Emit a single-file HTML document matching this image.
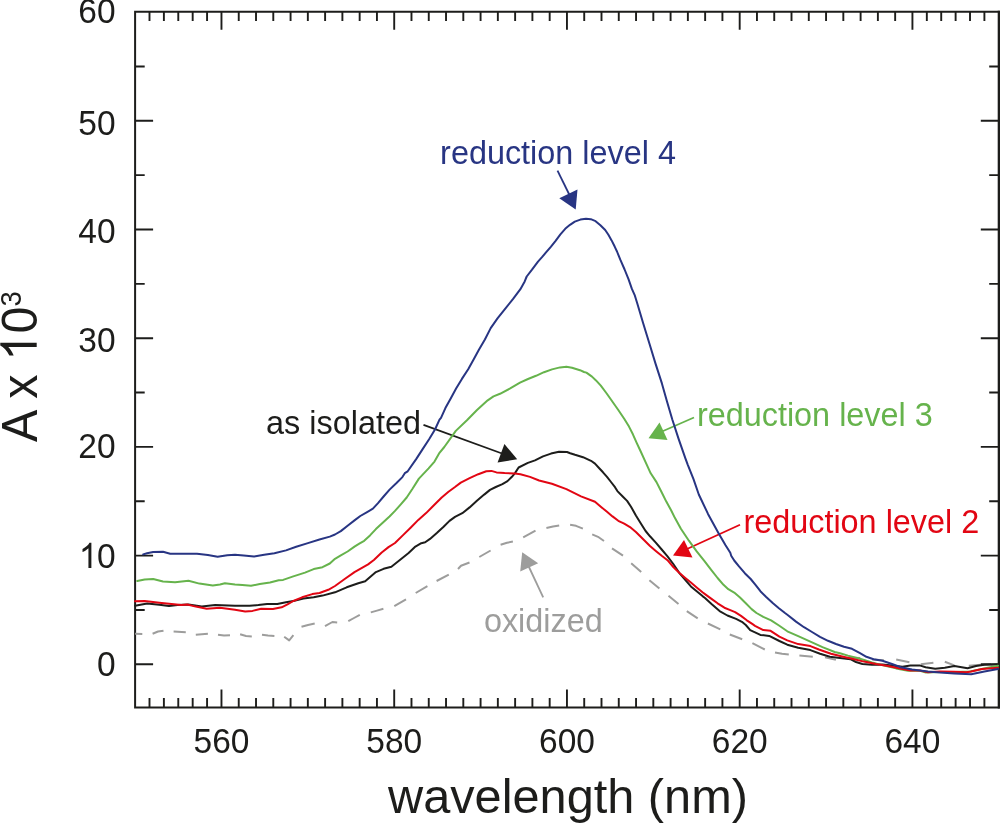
<!DOCTYPE html>
<html><head><meta charset="utf-8"><style>
html,body{margin:0;padding:0;background:#fff;width:1000px;height:823px;overflow:hidden}
svg{display:block;font-family:"Liberation Sans",sans-serif;will-change:transform}
</style></head><body>
<svg width="1000" height="823" viewBox="0 0 1000 823">
<path d="M998.8 11.7H135.1V707.4H998.8" fill="none" stroke="#1d1d1b" stroke-width="2" stroke-linecap="square"/>
<path d="M998.9 10.7V708.4" fill="none" stroke="#1d1d1b" stroke-width="2.4"/>
<path d="M221.47 11.7V29.7M221.47 707.4V689.4M394.21 11.7V29.7M394.21 707.4V689.4M566.95 11.7V29.7M566.95 707.4V689.4M739.69 11.7V29.7M739.69 707.4V689.4M912.43 11.7V29.7M912.43 707.4V689.4M149.50 11.7V21.0M149.50 707.4V698.1M163.89 11.7V21.0M163.89 707.4V698.1M178.28 11.7V21.0M178.28 707.4V698.1M192.68 11.7V21.0M192.68 707.4V698.1M207.07 11.7V21.0M207.07 707.4V698.1M238.74 11.7V21.0M238.74 707.4V698.1M256.02 11.7V21.0M256.02 707.4V698.1M273.29 11.7V21.0M273.29 707.4V698.1M290.57 11.7V21.0M290.57 707.4V698.1M307.84 11.7V21.0M307.84 707.4V698.1M325.11 11.7V21.0M325.11 707.4V698.1M342.39 11.7V21.0M342.39 707.4V698.1M359.66 11.7V21.0M359.66 707.4V698.1M376.94 11.7V21.0M376.94 707.4V698.1M411.48 11.7V21.0M411.48 707.4V698.1M428.76 11.7V21.0M428.76 707.4V698.1M446.03 11.7V21.0M446.03 707.4V698.1M463.31 11.7V21.0M463.31 707.4V698.1M480.58 11.7V21.0M480.58 707.4V698.1M497.85 11.7V21.0M497.85 707.4V698.1M515.13 11.7V21.0M515.13 707.4V698.1M532.40 11.7V21.0M532.40 707.4V698.1M549.68 11.7V21.0M549.68 707.4V698.1M584.22 11.7V21.0M584.22 707.4V698.1M601.50 11.7V21.0M601.50 707.4V698.1M618.77 11.7V21.0M618.77 707.4V698.1M636.05 11.7V21.0M636.05 707.4V698.1M653.32 11.7V21.0M653.32 707.4V698.1M670.59 11.7V21.0M670.59 707.4V698.1M687.87 11.7V21.0M687.87 707.4V698.1M705.14 11.7V21.0M705.14 707.4V698.1M722.42 11.7V21.0M722.42 707.4V698.1M756.96 11.7V21.0M756.96 707.4V698.1M774.24 11.7V21.0M774.24 707.4V698.1M791.51 11.7V21.0M791.51 707.4V698.1M808.79 11.7V21.0M808.79 707.4V698.1M826.06 11.7V21.0M826.06 707.4V698.1M843.33 11.7V21.0M843.33 707.4V698.1M860.61 11.7V21.0M860.61 707.4V698.1M877.88 11.7V21.0M877.88 707.4V698.1M895.16 11.7V21.0M895.16 707.4V698.1M926.83 11.7V21.0M926.83 707.4V698.1M941.22 11.7V21.0M941.22 707.4V698.1M955.62 11.7V21.0M955.62 707.4V698.1M970.01 11.7V21.0M970.01 707.4V698.1M984.40 11.7V21.0M984.40 707.4V698.1M135.1 664.30H153.1M998.8 664.30H980.8M135.1 555.60H153.1M998.8 555.60H980.8M135.1 446.90H153.1M998.8 446.90H980.8M135.1 338.20H153.1M998.8 338.20H980.8M135.1 229.50H153.1M998.8 229.50H980.8M135.1 120.80H153.1M998.8 120.80H980.8M135.1 609.95H144.7M998.8 609.95H989.1999999999999M135.1 501.25H144.7M998.8 501.25H989.1999999999999M135.1 392.55H144.7M998.8 392.55H989.1999999999999M135.1 283.85H144.7M998.8 283.85H989.1999999999999M135.1 175.15H144.7M998.8 175.15H989.1999999999999M135.1 66.45H144.7M998.8 66.45H989.1999999999999" stroke="#1d1d1b" stroke-width="1.9" fill="none"/>
<g font-size="33.5" fill="#1d1d1b"><text transform="translate(115.6 676.2) scale(1 1.05)" text-anchor="end">0</text><text transform="translate(115.6 568.0) scale(1 1.05)" text-anchor="end">0</text><path d="M763 0H583V1147Q518 1085 412 1023Q306 961 221 930V1104Q372 1175 485 1276Q598 1377 645 1472H763Z" transform="translate(78.9 568.0) scale(0.016357 -0.017175)"/><text transform="translate(115.6 458.2) scale(1 1.05)" text-anchor="end">20</text><text transform="translate(115.6 352.1) scale(1 1.05)" text-anchor="end">30</text><text transform="translate(115.6 243.0) scale(1 1.05)" text-anchor="end">40</text><text transform="translate(115.6 134.5) scale(1 1.05)" text-anchor="end">50</text><text transform="translate(115.6 23.4) scale(1 1.05)" text-anchor="end">60</text><text transform="translate(221.5 753.0) scale(1 1.05)" text-anchor="middle">560</text><text transform="translate(394.2 753.0) scale(1 1.05)" text-anchor="middle">580</text><text transform="translate(567.0 753.0) scale(1 1.05)" text-anchor="middle">600</text><text transform="translate(739.7 753.0) scale(1 1.05)" text-anchor="middle">620</text><text transform="translate(912.4 753.0) scale(1 1.05)" text-anchor="middle">640</text></g>
<text x="388" y="813" font-size="48.7" fill="#1d1d1b">wavelength (nm)</text>
<g transform="translate(36.7,442) rotate(-90) scale(1,1.045)" fill="#1d1d1b" font-size="48.5"><text x="0" y="0">A x</text><path d="M763 0H583V1147Q518 1085 412 1023Q306 961 221 930V1104Q372 1175 485 1276Q598 1377 645 1472H763Z" transform="translate(81.2 0) scale(0.023682 -0.023682)"/><text x="108.4" y="0">0</text><text x="135.45" y="-14.9" font-size="27.5">3</text></g>
<g font-size="32.4" transform="translate(0.5 0.7)"><text x="439.6" y="163.3" fill="#283583">reduction level 4</text><text x="696.4" y="425.5" fill="#66b34c">reduction level 3</text><text x="265.6" y="433" fill="#1d1d1b">as isolated</text><text x="742.9" y="532.3" fill="#e20613">reduction level 2</text><text x="483.4" y="631.7" fill="#9d9d9c">oxidized</text></g>
<path d="M557.5 170.6L569.5 195" stroke="#283583" stroke-width="1.8"/><path d="M559.3 198.3L577.5 189.5L575.7 209.6Z" fill="#283583"/>
<path d="M694 417.5L662 431.5" stroke="#66b34c" stroke-width="1.8"/><path d="M659.5 422.5L667.5 440L648.5 438.2Z" fill="#66b34c"/>
<path d="M423.5 424.9L502 453.5" stroke="#1d1d1b" stroke-width="1.8"/><path d="M504.4 444L497.6 462.4L517.2 459.2Z" fill="#1d1d1b"/>
<path d="M740 524.7L687 549" stroke="#e20613" stroke-width="1.8"/><path d="M684 540L692.5 557.5L673 555.5Z" fill="#e20613"/>
<path d="M543.2 597.4L528.5 566" stroke="#9d9d9c" stroke-width="1.8"/><path d="M520.2 571.5L538.2 563.2L522.2 552.3Z" fill="#9d9d9c"/>
<path d="M135.1 633.8 L142.3 633.9M152.6 633.7 L158.0 631.5 L163.5 630.7M173.6 631.5 L185.8 632.3M195.8 634.7 L207.9 633.7M218.0 634.7 L224.0 635.6 L230.0 635.2M240.1 634.2 L246.0 636.0 L251.8 636.4M262.0 634.7 L268.0 635.5 L274.4 636.0M284.2 636.8 L289.2 640.4 L293.4 635.2M301.5 626.8 L308.0 625.0 L314.7 623.5M325.0 626.2 L332.4 622.0 L337.2 622.4M348.3 621.2 L354.0 618.0 L359.8 614.8M370.8 612.4 L377.0 610.6 L383.4 608.8M394.3 606.2 L406.0 599.4M415.7 593.0 L427.4 586.1M436.6 581.0 L448.8 574.6M458.0 569.0 L461.0 565.8 L469.5 562.5M479.3 557.0 L490.6 550.5M500.6 544.8 L507.0 542.8 L512.9 541.6M523.2 537.3 L535.5 530.7M546.4 528.0 L553.0 526.5 L559.2 525.6M570.1 524.7 L576.0 525.8 L582.9 528.7M592.2 534.4 L598.0 536.8 L604.0 541.0M612.0 548.4 L623.0 555.7M631.2 563.3 L641.2 572.1M649.4 580.3 L659.4 588.5M668.5 595.8 L678.5 604.0M686.8 611.1 L697.7 618.4M707.9 623.5 L720.3 629.4M729.8 634.5 L742.2 639.3M752.4 643.2 L764.8 649.5M775.0 652.4 L782.0 653.8 L788.8 654.6M799.4 655.6 L812.8 656.8M825.0 657.4 L835.9 659.9M848.0 657.4 L860.2 658.0M872.0 659.6 L884.0 660.3M896.2 659.4 L909.4 662.2M920.8 664.2 L933.4 662.7M944.8 661.8 L954.4 665.4M968.8 665.8 L980.8 664.8M991.0 664.5 L998.0 664.5" stroke="#9d9d9c" stroke-width="2" fill="none" stroke-linejoin="round" stroke-linecap="butt"/>
<path d="M135.1 605.8 L147.2 603.6 L159.3 604.8 L169.0 606.0 L177.5 605.1 L188.5 604.5 L201.8 606.4 L215.2 604.9 L235.0 605.8 L249.6 605.8 L258.3 605.1 L267.1 604.1 L277.3 604.1 L286.0 602.2 L293.3 601.1 L303.5 598.5 L313.7 597.3 L322.5 595.6 L335.0 592.3 L346.7 587.3 L358.3 583.2 L365.2 581.3 L375.9 572.1 L383.6 568.8 L391.4 566.7 L400.8 559.3 L408.6 553.0 L415.4 546.6 L421.3 543.2 L425.2 542.3 L430.0 538.9 L436.8 533.0 L443.6 526.7 L449.5 520.9 L455.0 516.9 L462.3 513.2 L469.6 507.4 L476.9 500.8 L484.2 494.6 L490.0 489.9 L495.8 487.0 L502.4 484.1 L507.5 481.1 L511.9 476.8 L515.0 473.1 L518.6 467.5 L527.9 462.9 L535.0 460.4 L543.0 456.4 L551.0 453.6 L559.0 451.8 L567.0 452.0 L570.2 453.2 L575.0 454.8 L583.0 457.2 L591.0 460.8 L595.0 463.6 L599.0 468.0 L603.0 472.3 L607.0 476.8 L611.0 482.0 L615.0 487.2 L617.4 491.1 L622.2 496.0 L627.1 500.9 L631.0 506.7 L635.9 515.4 L640.7 523.2 L645.6 531.0 L650.0 536.3 L655.8 542.6 L661.7 549.5 L667.5 556.3 L673.3 564.0 L679.2 572.8 L685.0 579.6 L690.9 586.4 L696.7 591.3 L702.5 596.1 L705.0 598.0 L711.8 604.3 L719.6 611.1 L727.4 615.5 L736.1 618.9 L741.9 621.8 L745.8 625.0 L750.2 630.1 L760.4 634.9 L769.2 635.9 L779.4 641.0 L787.3 644.7 L798.2 647.7 L810.4 650.1 L820.1 653.8 L829.8 656.8 L840.0 658.0 L850.4 659.2 L856.0 662.0 L862.4 664.0 L872.0 664.8 L882.4 664.4 L892.0 665.6 L902.4 666.8 L910.4 665.6 L919.6 665.4 L925.6 667.2 L935.2 668.7 L944.8 667.8 L954.4 666.0 L967.6 668.2 L976.0 666.0 L984.4 664.8 L998.0 664.2" stroke="#1d1d1b" stroke-width="2" fill="none" stroke-linejoin="round" stroke-linecap="round"/>
<path d="M137.2 581.1 L144.7 579.4 L153.2 579.0 L163.0 581.5 L175.1 582.3 L188.5 580.8 L199.4 583.6 L212.8 585.5 L220.0 584.5 L224.9 583.3 L235.0 584.5 L242.3 585.1 L251.0 585.8 L259.8 583.9 L270.0 582.5 L278.7 580.3 L283.1 579.9 L293.3 576.4 L305.0 572.6 L313.7 569.1 L322.5 567.2 L329.8 563.5 L335.0 558.8 L340.8 555.4 L347.6 551.5 L354.5 546.6 L359.3 543.7 L364.2 540.8 L370.0 535.4 L375.9 529.1 L382.7 522.8 L389.5 516.5 L395.0 510.9 L400.8 504.3 L406.7 497.5 L412.5 488.8 L418.9 478.6 L428.6 468.4 L434.5 461.6 L439.5 452.8 L444.3 447.0 L455.8 430.9 L467.2 420.0 L477.0 410.0 L487.7 400.3 L493.5 396.4 L500.0 393.8 L510.2 388.4 L520.0 382.6 L528.0 379.0 L536.0 375.8 L544.0 372.2 L552.0 369.4 L560.0 367.4 L566.4 366.8 L572.0 367.8 L580.0 370.2 L584.0 372.0 L586.4 372.6 L592.0 376.6 L596.0 380.4 L600.8 385.7 L606.7 393.5 L612.5 401.8 L618.3 410.0 L624.2 418.8 L629.0 426.6 L632.9 434.3 L636.8 443.1 L640.5 451.0 L645.8 462.6 L650.7 473.3 L656.5 482.1 L661.4 491.8 L666.3 501.6 L671.1 510.3 L675.0 518.1 L680.9 528.8 L688.9 540.7 L696.7 551.4 L704.5 561.1 L710.8 569.3 L717.6 578.0 L723.5 584.8 L728.3 589.2 L734.2 592.6 L740.0 597.5 L745.8 603.3 L751.6 609.1 L756.5 613.0 L763.3 616.9 L771.1 620.3 L779.0 625.5 L787.3 631.3 L798.2 636.2 L810.4 641.6 L822.5 647.1 L834.7 652.0 L840.0 653.2 L848.0 655.6 L860.0 658.8 L872.0 662.4 L884.0 665.6 L896.0 668.4 L908.0 670.8 L920.0 670.8 L926.0 672.6 L940.0 672.0 L955.0 672.0 L970.0 671.5 L984.0 668.5 L998.0 665.8" stroke="#66b34c" stroke-width="2" fill="none" stroke-linejoin="round" stroke-linecap="round"/>
<path d="M135.1 601.3 L144.7 601.1 L159.3 602.7 L171.5 603.9 L181.2 605.1 L187.2 604.5 L195.8 606.6 L206.7 608.8 L220.0 607.8 L235.0 609.8 L245.2 611.6 L252.5 610.9 L261.2 608.7 L272.9 609.0 L281.6 607.3 L287.5 604.3 L293.3 601.0 L302.1 597.3 L312.3 594.1 L319.5 593.0 L328.3 589.8 L335.0 586.0 L344.7 579.0 L354.5 572.1 L368.1 564.4 L373.9 560.0 L381.7 552.5 L388.5 547.1 L395.0 543.0 L402.8 535.4 L410.6 527.7 L418.3 519.9 L426.1 513.1 L433.9 505.3 L441.7 497.5 L448.5 491.7 L455.0 487.0 L460.8 482.6 L469.6 478.2 L478.3 474.2 L486.3 471.3 L491.4 470.9 L496.5 472.4 L504.6 473.0 L515.0 473.5 L520.4 474.2 L530.0 476.9 L539.1 480.5 L551.9 483.7 L566.4 489.1 L581.0 496.4 L595.0 501.8 L600.8 506.7 L606.7 511.6 L612.5 516.4 L618.3 520.8 L624.2 523.7 L630.0 527.1 L635.9 532.0 L642.7 538.8 L650.0 546.0 L655.8 550.9 L661.7 555.8 L667.5 560.2 L673.3 567.0 L679.2 572.8 L685.0 577.7 L690.9 582.5 L696.7 587.4 L702.5 592.3 L705.0 594.1 L710.8 598.4 L717.6 603.3 L724.4 607.7 L730.3 610.1 L735.1 612.1 L741.0 615.9 L746.8 620.3 L752.6 624.2 L755.0 625.8 L763.3 630.1 L770.6 630.8 L779.4 636.7 L787.3 640.4 L798.2 644.1 L810.4 646.1 L818.9 649.5 L831.0 653.8 L843.2 656.8 L852.0 658.8 L864.0 661.6 L876.0 664.0 L888.0 666.0 L900.0 668.4 L910.4 670.4 L920.0 670.6 L928.0 672.3 L940.0 671.4 L954.4 671.8 L966.4 672.3 L971.2 671.4 L982.0 669.0 L998.0 667.8" stroke="#e20613" stroke-width="2" fill="none" stroke-linejoin="round" stroke-linecap="round"/>
<path d="M143.2 554.4 L147.0 553.3 L153.2 551.9 L163.0 551.7 L170.2 553.7 L183.6 553.7 L197.0 553.7 L207.9 555.0 L217.6 556.8 L227.3 555.3 L235.0 554.7 L243.7 555.5 L254.0 556.5 L264.2 554.8 L274.4 553.3 L286.0 550.4 L296.2 546.8 L307.9 543.1 L319.5 539.5 L329.8 536.6 L335.0 534.5 L340.8 531.1 L347.6 525.7 L354.5 520.4 L360.3 516.0 L367.1 512.1 L372.9 508.7 L377.8 503.3 L383.6 496.5 L389.6 489.6 L396.5 483.0 L402.4 477.1 L404.8 473.2 L407.7 471.3 L416.5 458.6 L422.8 448.9 L429.1 439.2 L435.0 429.5 L439.5 419.7 L441.0 417.8 L445.4 408.1 L450.7 398.4 L456.1 388.6 L461.9 378.9 L468.2 369.2 L473.6 359.5 L478.9 349.7 L484.9 339.5 L490.7 328.1 L497.5 318.4 L505.3 308.6 L513.1 298.9 L520.4 289.2 L524.7 281.4 L526.7 276.5 L532.0 269.7 L538.0 261.6 L542.0 257.2 L546.0 252.4 L550.8 246.8 L555.6 240.8 L560.4 234.4 L565.2 228.8 L570.0 224.8 L574.8 221.6 L580.4 219.6 L586.0 218.8 L590.8 219.2 L595.6 221.2 L600.4 225.2 L605.2 230.0 L608.4 234.8 L611.6 240.4 L614.8 246.8 L617.0 251.5 L620.3 259.7 L624.6 269.5 L628.5 279.2 L631.9 288.9 L634.9 295.7 L637.3 303.5 L640.2 313.2 L643.1 323.0 L646.7 334.7 L649.7 344.5 L655.6 363.9 L661.9 383.4 L667.0 401.5 L672.3 419.5 L678.6 438.9 L685.4 458.4 L687.7 464.6 L693.5 479.2 L698.8 494.5 L708.0 513.9 L718.7 533.4 L725.4 545.0 L730.3 552.8 L731.2 555.7 L734.2 560.5 L739.0 566.4 L744.8 573.2 L750.7 579.0 L755.5 584.8 L760.4 591.2 L766.2 597.0 L773.0 603.3 L778.9 608.2 L785.0 613.0 L788.0 615.2 L796.0 621.6 L804.0 627.2 L812.0 632.0 L820.0 636.8 L828.0 640.8 L836.0 644.0 L844.0 646.8 L852.0 648.8 L860.0 653.2 L866.4 656.8 L873.6 659.2 L882.4 660.8 L892.0 664.0 L900.8 667.2 L912.0 669.6 L920.0 670.4 L928.0 671.4 L940.0 672.6 L954.4 673.5 L971.2 674.2 L984.4 671.4 L998.0 669.0" stroke="#283583" stroke-width="2" fill="none" stroke-linejoin="round" stroke-linecap="round"/>
</svg>
</body></html>
